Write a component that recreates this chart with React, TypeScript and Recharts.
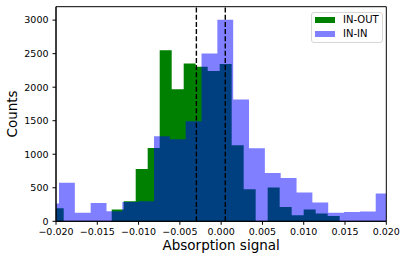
import { ComposedChart, Area, XAxis, YAxis, ReferenceLine, ReferenceArea } from 'recharts';

// IN-OUT histogram: first bin edge, bin width, counts per bin
const inOutStart = -0.02052;
const inOutWidth = 0.001453;
const inOutCounts = [194, 0, 0, 0, 0, 175, 300, 780, 1094, 2550, 1970, 2354, 2303, 2243, 2347, 1134, 478, 0, 503, 214, 90, 175, 115, 80, 0, 0, 0, 0];

// IN-IN histogram
const inInStart = -0.021554;
const inInWidth = 0.0019177;
const inInCounts = [264, 575, 128, 273, 149, 288, 298, 1269, 1224, 1493, 2504, 3005, 1816, 1090, 721, 646, 428, 282, 128, 137, 145, 413];

const xTicks = [-0.02, -0.015, -0.01, -0.005, 0, 0.005, 0.01, 0.015, 0.02];
const yTicks = [0, 500, 1000, 1500, 2000, 2500, 3000];
const markers = [-0.003, 0.0005];

const FONT = '"DejaVu Sans", sans-serif';

function toSteps(start: number, width: number, counts: number[]) {
  const pts = counts.map((c, i) => ({ x: start + i * width, y: c }));
  pts.push({ x: start + counts.length * width, y: counts[counts.length - 1] });
  return pts;
}

const inOutData = toSteps(inOutStart, inOutWidth, inOutCounts);
const inInData = toSteps(inInStart, inInWidth, inInCounts);

const fmtX = (v: number) => (Math.abs(v) < 1e-9 ? '0.000' : v.toFixed(3).replace('-', '\u2212'));

export default function App() {
  return (
    <div style={{ position: 'absolute', left: 0, top: 0, width: 408, height: 262, background: '#fff', fontFamily: FONT }}>
      <ComposedChart width={408} height={262} margin={{ top: 6.7, right: 21.7, left: 0, bottom: 0 }}>
        <XAxis
          type="number"
          dataKey="x"
          domain={[-0.02, 0.02]}
          allowDataOverflow
          ticks={xTicks}
          tickFormatter={fmtX}
          height={40.7}
          stroke="#000"
          tickSize={3.5}
          tickMargin={3.5}
          tick={{ fill: '#000', fontSize: 9.5, fontFamily: FONT }}
          label={{
            content: ({ viewBox }: any) => (
              <text x={viewBox.x + viewBox.width / 2} y={viewBox.y + 28.7} textAnchor="middle" fontSize={13.5} fontFamily={FONT} fill="#000">
                Absorption signal
              </text>
            ),
          }}
        />
        <YAxis
          type="number"
          domain={[0, 3200]}
          ticks={yTicks}
          width={56}
          stroke="#000"
          tickSize={3.5}
          tickMargin={4}
          tick={{ fill: '#000', fontSize: 9.5, fontFamily: FONT }}
          label={{
            content: ({ viewBox }: any) => {
              const cx = viewBox.x + 12.3;
              const cy = viewBox.y + viewBox.height / 2;
              return (
                <text x={cx} y={cy} transform={`rotate(-90 ${cx} ${cy})`} textAnchor="middle" dominantBaseline="central" fontSize={13.5} fontFamily={FONT} fill="#000">
                  Counts
                </text>
              );
            },
          }}
        />
        <Area data={inOutData} dataKey="y" type="stepAfter" fill="#008000" fillOpacity={1} stroke="none" isAnimationActive={false} />
        <Area data={inInData} dataKey="y" type="stepAfter" fill="#0000ff" fillOpacity={0.5} stroke="none" isAnimationActive={false} />
        {markers.map((m) => (
          <ReferenceLine key={m} x={m} stroke="#000" strokeWidth={1.4} strokeDasharray="5 2.2" />
        ))}
        <ReferenceArea x1={-0.02} x2={0.02} y1={0} y2={3200} fill="none" stroke="#000" strokeWidth={1} ifOverflow="visible" />
      </ComposedChart>
      <div
        style={{
          position: 'absolute',
          left: 311,
          top: 11.7,
          width: 72,
          height: 31.6,
          boxSizing: 'border-box',
          border: '1px solid #d6d6d6',
          borderRadius: 3,
          background: 'rgba(255,255,255,0.8)',
          fontSize: 10,
          color: '#000',
        }}
      >
        <div style={{ position: 'absolute', left: 3, top: 4.5, width: 20, height: 6, background: '#008000' }} />
        <div style={{ position: 'absolute', left: 31, top: 1.5, lineHeight: '12px' }}>IN-OUT</div>
        <div style={{ position: 'absolute', left: 3, top: 18.5, width: 20, height: 6, background: '#8080ff' }} />
        <div style={{ position: 'absolute', left: 31, top: 15.5, lineHeight: '12px' }}>IN-IN</div>
      </div>
    </div>
  );
}
